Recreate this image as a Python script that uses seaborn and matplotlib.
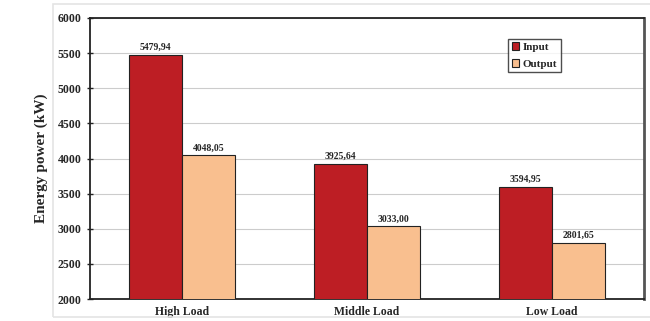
import matplotlib
matplotlib.use("Agg")
import matplotlib.pyplot as plt
import seaborn as sns
import pandas as pd
from matplotlib.patches import Rectangle

categories = ["High Load", "Middle Load", "Low Load"]
series = ["Input", "Output"]
input_values = [5479.94, 3925.64, 3594.95]
output_values = [4048.05, 3033.00, 2801.65]
value_labels_input = ["5479,94", "3925,64", "3594,95"]
value_labels_output = ["4048,05", "3033,00", "2801,65"]
y_ticks = [2000, 2500, 3000, 3500, 4000, 4500, 5000, 5500, 6000]

df = pd.DataFrame({
    "Load": categories * 2,
    "Series": [series[0]] * 3 + [series[1]] * 3,
    "Value": input_values + output_values,
})

sns.set_theme(style="white")
plt.rcParams["font.family"] = ["Liberation Serif", "DejaVu Serif"]
plt.rcParams["font.weight"] = "bold"

fig = plt.figure(figsize=(6.5, 3.21), dpi=100)
# light outer chart frame
fig.patches.append(Rectangle((53 / 650, 4 / 321), 600 / 650, 313 / 321,
                             transform=fig.transFigure, fill=False,
                             edgecolor="#e4e4e4", linewidth=1.2))
ax = fig.add_axes([90 / 650, 1 - 299 / 321, 554 / 650, 281 / 321])

palette = {"Input": "#BD1E24", "Output": "#F9BF8F"}
sns.barplot(data=df, x="Load", y="Value", hue="Series", palette=palette,
            width=0.575, edgecolor="#222222", linewidth=0.8, saturation=1,
            ax=ax, legend=True, zorder=3)

ax.set_ylim(2000, 6000)
ax.set_xlim(-0.5, 2.5)
ax.set_yticks(y_ticks)
ax.set_yticklabels([str(t) for t in y_ticks], fontsize=8.5, fontweight="bold")
ax.yaxis.grid(True, color="#cccccc", linewidth=0.8, zorder=0)
ax.set_axisbelow(True)

# category labels centered, tick marks at group boundaries
ax.set_xticks([0, 1, 2])
ax.set_xticklabels(categories, fontsize=8.5, fontweight="bold")
ax.tick_params(axis="x", length=0, pad=5)
ax.set_xticks([0.5, 1.5], minor=True)
ax.tick_params(axis="x", which="minor", length=4, width=1, color="#222222", direction="inout")
ax.tick_params(axis="y", length=4, width=1, color="#222222", direction="inout", left=True, pad=4)

ax.set_xlabel("")
ax.set_ylabel("Energy power (kW)", fontsize=11, fontweight="bold", labelpad=7)

for side in ["left", "bottom", "top"]:
    ax.spines[side].set_color("#222222")
    ax.spines[side].set_linewidth(1.3)
ax.spines["right"].set_color("#555555")
ax.spines["right"].set_linewidth(2)

# value labels above bars
for container, labels in zip(ax.containers, [value_labels_input, value_labels_output]):
    ax.bar_label(container, labels=labels, padding=2, fontsize=7, fontweight="bold")

leg = ax.legend(loc="upper left", bbox_to_anchor=(0.745, 0.945), fontsize=8,
                frameon=True, fancybox=False, edgecolor="#222222",
                handlelength=0.7, handleheight=0.7, handletextpad=0.3,
                borderpad=0.3, labelspacing=0.65)
leg.get_frame().set_linewidth(1.0)
for t in leg.get_texts():
    t.set_fontweight("bold")

fig.savefig("out.png", dpi=100)
